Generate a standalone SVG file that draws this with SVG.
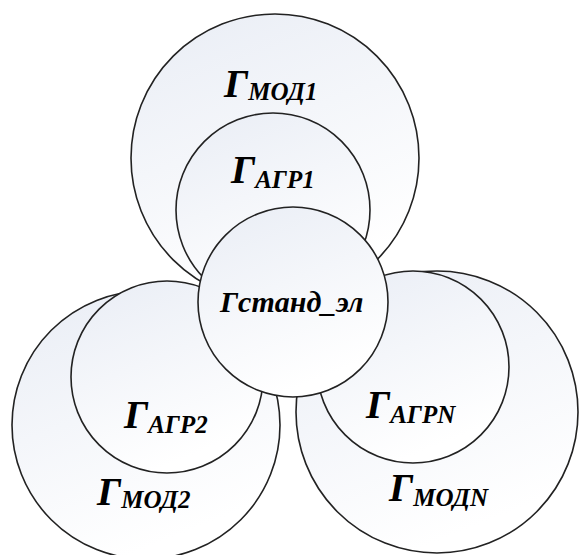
<svg xmlns="http://www.w3.org/2000/svg" width="579" height="555" viewBox="0 0 579 555">
<defs>
<linearGradient id="g" x1="0" y1="0" x2="0.4" y2="1">
<stop offset="0" stop-color="#e9edf5"/>
<stop offset="1" stop-color="#ffffff"/>
</linearGradient>
<style>
.c{fill:url(#g);stroke:#222;stroke-width:1.6}
.t{font-family:"Liberation Serif","Times New Roman",serif;font-weight:bold;font-style:italic;fill:#000;font-size:40px}
.s{font-size:25px}
.m{font-size:30px}
</style>
</defs>
<rect width="579" height="555" fill="#fff"/>
<g id="mod1"><circle class="c" cx="275" cy="158" r="144"/><text class="t" x="224" y="97">Г<tspan class="s" dy="3">МОД1</tspan></text></g>
<g id="agr1"><circle class="c" cx="273" cy="210" r="97"/><text class="t" x="231" y="183">Г<tspan class="s" dy="5">АГР1</tspan></text></g>
<g id="mod2"><circle class="c" cx="146" cy="425" r="134"/><text class="t" x="97" y="505">Г<tspan class="s" dy="3">МОД2</tspan></text></g>
<g id="agr2"><circle class="c" cx="167" cy="377" r="96"/><text class="t" x="124" y="428">Г<tspan class="s" dy="5">АГР2</tspan></text></g>
<g id="modn"><circle class="c" cx="437" cy="412" r="141"/><text class="t" x="389" y="501">Г<tspan class="s" dy="5">МОДN</tspan></text></g>
<g id="agrn"><circle class="c" cx="413" cy="367" r="96"/><text class="t" x="366" y="418">Г<tspan class="s" dy="5">АГРN</tspan></text></g>
<g id="stand"><circle class="c" cx="293" cy="302" r="95"/><text class="t m" x="220" y="312">Гстанд_эл</text></g>
<g id="connectors"/>
</svg>
